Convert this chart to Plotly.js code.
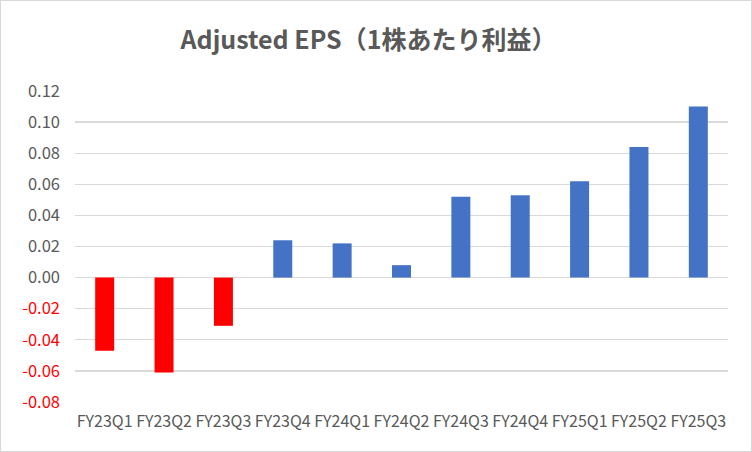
<!DOCTYPE html>
<html><head><meta charset="utf-8">
<script src="https://cdn.plot.ly/plotly-3.0.1.min.js"></script>
<style>html,body{margin:0;padding:0;background:#fff;}#c{width:750px;height:450px;border:1px solid #d9d9d9;}</style>
</head><body><div id="c"></div>
<script>
const categories = ["FY23Q1","FY23Q2","FY23Q3","FY23Q4","FY24Q1","FY24Q2","FY24Q3","FY24Q4","FY25Q1","FY25Q2","FY25Q3"];
const eps = [-0.047,-0.061,-0.031,0.024,0.022,0.008,0.052,0.053,0.062,0.084,0.110];
const tickValues = [-0.08,-0.06,-0.04,-0.02,0,0.02,0.04,0.06,0.08,0.10,0.12];
const tickLabels = ["-0.08","-0.06","-0.04","-0.02","0.00","0.02","0.04","0.06","0.08","0.10","0.12"];
const titleText = "Adjusted EPS（1株あたり利益）";

const font = '"Noto Sans CJK JP", "Noto Sans", sans-serif';
const colors = eps.map(v => v < 0 ? "#FF0000" : "#4472C4");
const ticktext = tickLabels.map((t,i) => tickValues[i] < 0 ? '<span style="color:#FF0000">'+t+'</span>' : t);

Plotly.newPlot("c", [{
  type: "bar", x: categories, y: eps, marker: {color: colors}, hoverinfo: "none"
}], {
  width: 750, height: 450,
  margin: {l: 74, r: 23, t: 90, b: 49},
  paper_bgcolor: "#fff", plot_bgcolor: "#fff",
  bargap: 0.68,
  showlegend: false,
  title: {text: titleText, x: 0.49, xanchor: "center", y: 0.913, yanchor: "middle",
          font: {family: font, size: 25, color: "#595959", weight: "bold"}},
  xaxis: {type: "category", showgrid: false, zeroline: false, showline: false, ticks: "",
          ticklabelstandoff: 8,
          tickfont: {family: font, size: 16, color: "#595959"}},
  yaxis: {range: [-0.08, 0.12], tickvals: tickValues, ticktext: ticktext,
          showgrid: true, gridcolor: "#d9d9d9", gridwidth: 1.4,
          zeroline: true, zerolinecolor: "#d9d9d9", zerolinewidth: 1.4,
          showline: false, ticks: "", ticklabelstandoff: 14,
          tickfont: {family: font, size: 16.5, color: "#595959"}}
}, {displayModeBar: false, staticPlot: true});
</script></body></html>
